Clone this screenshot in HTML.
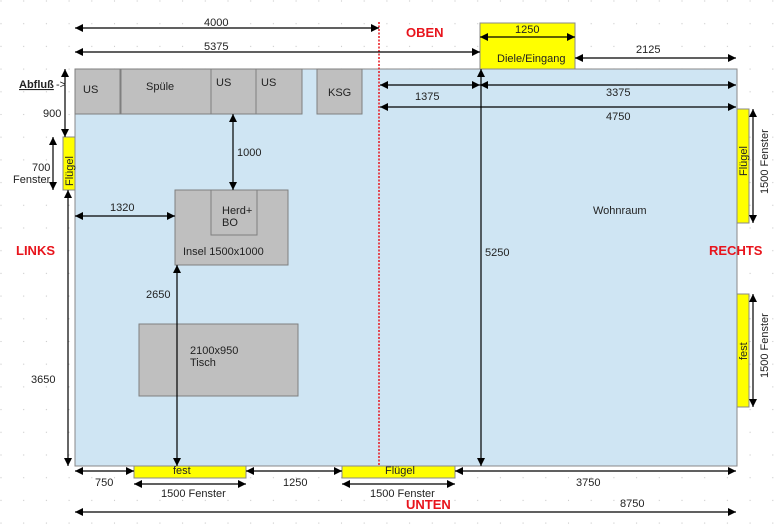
<!DOCTYPE html>
<html><head><meta charset="utf-8"><style>
html,body{margin:0;padding:0;background:#fff;}
svg{display:block;font-family:"Liberation Sans",sans-serif;}
text{font-size:11px;fill:#222;}
.r{fill:#e8141c;font-weight:bold;font-size:13px;}
</style></head><body>
<svg width="782" height="528" viewBox="0 0 782 528">
<defs>
<pattern id="dots" width="22.7" height="22.7" patternUnits="userSpaceOnUse">
<circle cx="1" cy="1" r="0.6" fill="#c8c8c8"/>
</pattern>
<marker id="a" viewBox="0 0 10 10" refX="10" refY="5" markerWidth="11" markerHeight="8" orient="auto-start-reverse" markerUnits="userSpaceOnUse">
<path d="M0,0 L10,5 L0,10 z" fill="#000"/>
</marker>
</defs>
<rect width="782" height="528" fill="url(#dots)"/>
<rect x="75" y="69" width="662" height="397" fill="#cfe5f3" stroke="#888"/>
<g fill="#bfbfbf" stroke="#7f7f7f">
<rect x="75" y="69" width="45" height="45"/>
<rect x="121" y="69" width="90" height="45"/>
<rect x="211" y="69" width="45" height="45"/>
<rect x="256" y="69" width="46" height="45"/>
<rect x="317" y="69" width="45" height="45"/>
<rect x="175" y="190" width="113" height="75"/>
<rect x="211" y="190" width="46" height="45"/>
<rect x="139" y="324" width="159" height="72"/>
</g>
<g fill="#ffff00" stroke="#888">
<rect x="480" y="23" width="95" height="46"/>
<rect x="63" y="137" width="12" height="53"/>
<rect x="737" y="109" width="12" height="114"/>
<rect x="737" y="294" width="12" height="113"/>
<rect x="134" y="466" width="112" height="12"/>
<rect x="342" y="466" width="113" height="12"/>
</g>
<line x1="379" y1="22" x2="379" y2="466" stroke="#e8141c" stroke-width="1.5" stroke-dasharray="2,1.5"/>
<g stroke="#000" stroke-width="1.2" marker-start="url(#a)" marker-end="url(#a)">
<line x1="75" y1="28" x2="379" y2="28"/>
<line x1="75" y1="52" x2="480" y2="52"/>
<line x1="480" y1="37" x2="575" y2="37"/>
<line x1="575" y1="58" x2="736" y2="58"/>
<line x1="380" y1="85" x2="480" y2="85"/>
<line x1="480" y1="85" x2="736" y2="85"/>
<line x1="380" y1="107" x2="736" y2="107"/>
<line x1="481" y1="69" x2="481" y2="466"/>
<line x1="65" y1="69" x2="65" y2="137"/>
<line x1="53" y1="137" x2="53" y2="190"/>
<line x1="68" y1="190" x2="68" y2="466"/>
<line x1="233" y1="114" x2="233" y2="190"/>
<line x1="75" y1="216" x2="175" y2="216"/>
<line x1="177" y1="265" x2="177" y2="466"/>
<line x1="753" y1="109" x2="753" y2="223"/>
<line x1="753" y1="294" x2="753" y2="407"/>
<line x1="75" y1="471" x2="134" y2="471"/>
<line x1="246" y1="471" x2="342" y2="471"/>
<line x1="455" y1="471" x2="736" y2="471"/>
<line x1="134" y1="484" x2="246" y2="484"/>
<line x1="342" y1="484" x2="455" y2="484"/>
<line x1="75" y1="512" x2="736" y2="512"/>
</g>
<text x="204" y="26">4000</text>
<text x="204" y="50">5375</text>
<text x="406" y="37" class="r">OBEN</text>
<text x="515" y="33">1250</text>
<text x="497" y="62">Diele/Eingang</text>
<text x="636" y="53">2125</text>
<text x="415" y="100">1375</text>
<text x="606" y="96">3375</text>
<text x="606" y="120">4750</text>
<text x="19" y="88" style="font-weight:bold;text-decoration:underline;text-decoration-color:#e8141c">Abfluß</text>
<text x="56" y="88">-&gt;</text>
<text x="83" y="93">US</text>
<text x="146" y="90">Spüle</text>
<text x="216" y="86">US</text>
<text x="261" y="86">US</text>
<text x="328" y="96">KSG</text>
<text x="43" y="117">900</text>
<text x="32" y="171">700</text>
<text x="13" y="183">Fenster</text>
<text x="237" y="156">1000</text>
<text x="110" y="211">1320</text>
<text x="222" y="214">Herd+</text>
<text x="222" y="226">BO</text>
<text x="183" y="255">Insel 1500x1000</text>
<text x="16" y="255" class="r">LINKS</text>
<text x="146" y="298">2650</text>
<text x="190" y="354">2100x950</text>
<text x="190" y="366">Tisch</text>
<text x="31" y="383">3650</text>
<text x="593" y="214">Wohnraum</text>
<text x="485" y="256">5250</text>
<text x="709" y="255" class="r">RECHTS</text>
<text x="173" y="474">fest</text>
<text x="385" y="474">Flügel</text>
<text x="95" y="486">750</text>
<text x="283" y="486">1250</text>
<text x="576" y="486">3750</text>
<text x="161" y="497">1500 Fenster</text>
<text x="370" y="497">1500 Fenster</text>
<text x="406" y="509" class="r">UNTEN</text>
<text x="620" y="507">8750</text>
<text transform="translate(73,186) rotate(-90)">Flügel</text>
<text transform="translate(747,176) rotate(-90)">Flügel</text>
<text transform="translate(747,360) rotate(-90)">fest</text>
<text transform="translate(768,194) rotate(-90)">1500 Fenster</text>
<text transform="translate(768,378) rotate(-90)">1500 Fenster</text>
</svg>
</body></html>
